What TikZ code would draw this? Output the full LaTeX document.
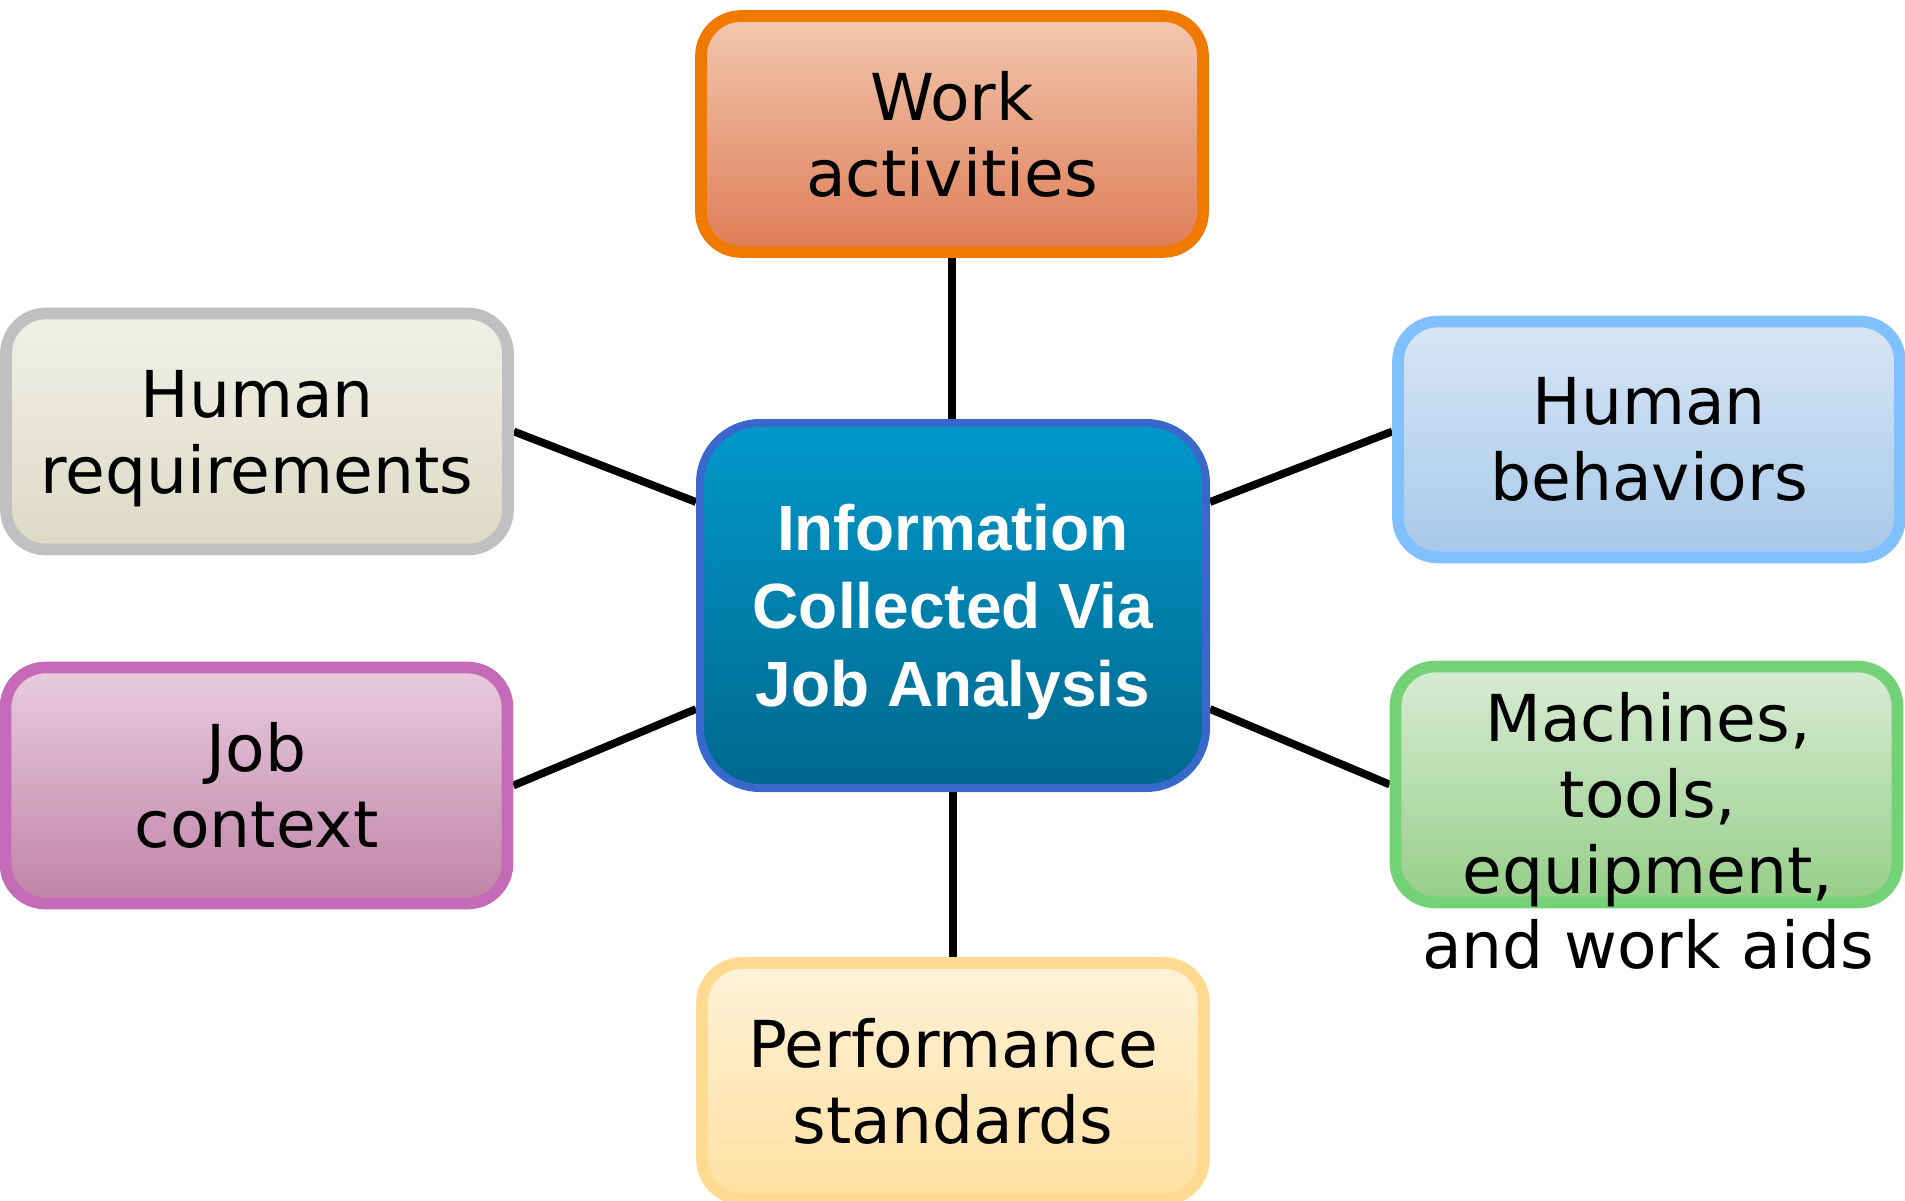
\documentclass[tikz,border=0pt]{standalone}
\usepackage{fontspec}
\setmainfont{DejaVu Sans}
\newfontfamily\hubfont{Liberation Sans}
\usetikzlibrary{positioning,calc,backgrounds}

\definecolor{workline}{HTML}{F07A00}
\definecolor{worktop}{HTML}{F2C8B0}
\definecolor{workbot}{HTML}{DE7C56}
\definecolor{hubline}{HTML}{3868CC}
\definecolor{hubtop}{HTML}{0098CA}
\definecolor{hubbot}{HTML}{00688E}
\definecolor{hreqline}{HTML}{C0C0C0}
\definecolor{hreqtop}{HTML}{F0F0E8}
\definecolor{hreqbot}{HTML}{DCDAC4}
\definecolor{hbehline}{HTML}{80C0FF}
\definecolor{hbehtop}{HTML}{D8E6F6}
\definecolor{hbehbot}{HTML}{A6C8E8}
\definecolor{jctxline}{HTML}{C46AB6}
\definecolor{jctxtop}{HTML}{E8CCE0}
\definecolor{jctxbot}{HTML}{C082A6}
\definecolor{machline}{HTML}{74D276}
\definecolor{machtop}{HTML}{D8ECD4}
\definecolor{machbot}{HTML}{96CE88}
\definecolor{perfline}{HTML}{FFDA90}
\definecolor{perftop}{HTML}{FFF2D8}
\definecolor{perfbot}{HTML}{FFE0A0}

\begin{document}
\begin{tikzpicture}[
    box/.style={draw, line width=0.117cm, rounded corners=0.4cm, minimum width=5.02cm, minimum height=2.36cm, inner sep=0pt, align=center, font=\fontsize{18.4pt}{21.6pt}\selectfont},
    hub/.style={draw=hubline, line width=0.08cm, rounded corners=0.6cm, top color=hubtop, bottom color=hubbot, minimum width=5.06cm, minimum height=3.65cm, inner sep=0pt, align=center, text=white, font=\hubfont\bfseries\fontsize{18.2pt}{22.2pt}\selectfont},
    link/.style={draw, line width=0.078cm, color=black}
]

\useasboundingbox (0,0) rectangle (19.05,-12.01);

% Define node positions
\node[hub] (info) at (9.53,-6.055) {Information\\Collected Via\\\smash{Job Analysis}};
\node[box, draw=workline, top color=worktop, bottom color=workbot] (work) at (9.52,-1.34) {Work\\activities};
\node[box, draw=hreqline, top color=hreqtop, bottom color=hreqbot] (hreq) at (2.57,-4.315) {Human\\\smash{requirements}};
\node[box, draw=hbehline, top color=hbehtop, bottom color=hbehbot] (hbeh) at (16.49,-4.395) {Human\\behaviors};
\node[box, draw=jctxline, top color=jctxtop, bottom color=jctxbot] (jctx) at (2.565,-7.855) {Job\\context};
\node[box, draw=machline, top color=machtop, bottom color=machbot] (mach) at (16.465,-7.845) {};
\node[inner sep=0pt, align=center, font=\fontsize{18.4pt}{21.6pt}\selectfont] (machtext) at (16.48,-8.31) {Machines,\\tools,\\equipment,\\and work aids};
\node[box, draw=perfline, top color=perftop, bottom color=perfbot] (perf) at (9.53,-10.81) {Performance\\standards};

% Connect the hub with each box
\begin{scope}[on background layer]
\draw[link] (work.south) -- (work.south |- info.north);
\draw[link] (info.south) -- (info.south |- perf.north);
\draw[link] (hreq.east) -- ($(info.west)+(0,1.035)$);
\draw[link] (jctx.east) -- ($(info.west)+(0,-1.035)$);
\draw[link] ($(hbeh.west)+(0,0.08)$) -- ($(info.east)+(0,1.035)$);
\draw[link] (mach.west) -- ($(info.east)+(0,-1.035)$);
\end{scope}

\end{tikzpicture}
\end{document}
